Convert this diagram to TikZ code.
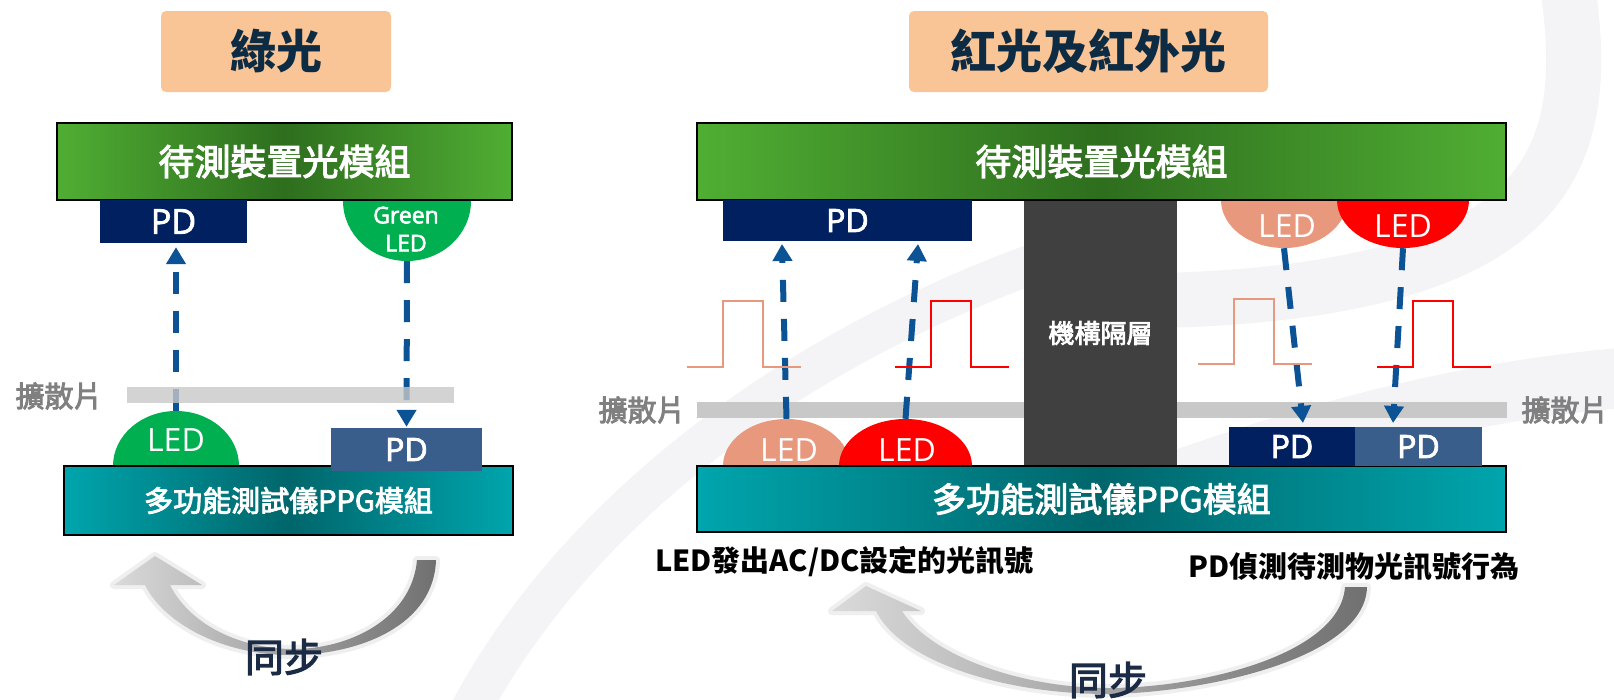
\documentclass[tikz,border=0pt]{standalone}
\usepackage{fontspec}
\setmainfont{Noto Sans CJK TC}
\newfontfamily\cjkmid[FakeBold=3]{Noto Sans CJK TC}
\newfontfamily\latf{Open Sans}
\newfontfamily\latsb[FakeBold=2.5]{Open Sans}
\usetikzlibrary{arrows.meta,shapes.geometric}
\newcommand\myfs[1]{\fontsize{#1pt}{#1pt}\selectfont}
\definecolor{peach}{HTML}{F9C597}
\definecolor{titletext}{HTML}{0D2B42}
\definecolor{gEdge}{HTML}{50AE33}
\definecolor{gMid}{HTML}{2E6E1E}
\definecolor{tEdge}{HTML}{00A5AD}
\definecolor{tMid}{HTML}{00666B}
\definecolor{pdDark}{HTML}{002060}
\definecolor{pdLight}{HTML}{3A5E8B}
\definecolor{ledGreen}{HTML}{00B050}
\definecolor{ledSalmon}{HTML}{E8987D}
\definecolor{ledRed}{HTML}{FF0000}
\definecolor{arrowBlue}{HTML}{0B5394}
\definecolor{diff}{HTML}{C8C8C8}
\definecolor{diffText}{HTML}{808080}
\definecolor{barrierC}{HTML}{404040}
\definecolor{swirl}{HTML}{F4F4F7}
\definecolor{syncText}{HTML}{1B2A45}
\definecolor{syncGlow}{HTML}{EFEFEF}
\definecolor{syncLight}{HTML}{DADADA}
\definecolor{syncDark}{HTML}{707070}
\begin{document}
\begin{tikzpicture}[x=1pt,y=-1pt,
 titlebox/.style={fill=peach, rounded corners=5pt, inner sep=0pt, text=titletext, font=\myfs{46}\bfseries},
 ledshape/.style={ellipse, inner sep=0pt, draw=none},
 greenbar/.style={draw=black, line width=1.5pt, left color=gEdge, right color=gEdge, middle color=gMid, text=white, font=\cjkmid\myfs{36}, inner sep=0pt},
 tealbar/.style={draw=black, line width=1.5pt, left color=tEdge, right color=tEdge, middle color=tMid, text=white, inner sep=0pt},
 pdbox/.style={inner sep=0pt, text=white, font=\latsb\myfs{32}},
 ledtext/.style={text=white, font=\latf\myfs{32}, inner sep=0pt},
 lightarrow/.style={draw=arrowBlue, line width=6pt, dash pattern=on 22pt off 17pt, -{Triangle[width=19pt,length=17pt]}},
 diffuser/.style={fill=diff, inner sep=0pt},
 difflabel/.style={text=diffText, font=\cjkmid\myfs{29}, inner sep=0pt},
 barrierbox/.style={fill=barrierC, inner sep=0pt, text=white, font=\cjkmid\myfs{26}},
 wave/.style={line width=2pt},
 synctext/.style={text=syncText, font=\cjkmid\myfs{39}, inner sep=0pt},
 syncarrow/.style={preaction={draw=syncGlow, line width=8pt, line join=round}, left color=syncLight, right color=syncDark},
 note/.style={font=\myfs{29}\bfseries, text=black, inner sep=0pt},
 swirlband/.style={draw=swirl, line cap=round}
]
\useasboundingbox (0,0) rectangle (1614,699);
\fill[white] (0,0) rectangle (1614,699);
\begin{scope}
\clip (0,0) rectangle (1614,699);
\draw[swirlband, line width=40pt] (455,740) .. controls (560,520) and (800,330) .. (1120,235);
\draw[swirlband, line width=55pt] (1565,-30) .. controls (1595,150) and (1565,285) .. (1180,300);
\draw[swirlband, line width=60pt] (1180,480) .. controls (1350,420) and (1500,385) .. (1660,375);
\end{scope}

% titles
\node[titlebox, minimum width=230pt, minimum height=81pt] (titleL) at (276,51.5) {綠光};
\node[titlebox, minimum width=359pt, minimum height=81pt] (titleR) at (1088.5,51.5) {紅光及紅外光};

% ===== left panel =====
\node[ledshape, fill=ledGreen, minimum width=128pt, minimum height=120pt] (gLED) at (407,201) {};
\node[ledshape, fill=ledGreen, minimum width=126pt, minimum height=110pt] (bLED) at (176,466) {};
\node[greenbar, minimum width=455pt, minimum height=77pt] (gbarL) at (284.5,161.5) {待測裝置光模組};
\node[tealbar, minimum width=449pt, minimum height=69pt, font=\cjkmid\myfs{29}] (tbarL) at (288.5,500.5) {多功能測試儀PPG模組};
\node[pdbox, fill=pdDark, minimum width=147pt, minimum height=43pt, font=\latsb\myfs{34}] (pdTL) at (173.5,221.5) {PD};
\node[pdbox, fill=pdLight, minimum width=151pt, minimum height=43pt] (pdBL) at (406.5,449.5) {PD};
\node[ledtext, align=center, font=\latsb\fontsize{23pt}{28pt}\selectfont] (tGLED) at (406,229) {Green\\LED};
\node[ledtext] (tBLED) at (176,440) {LED};
\draw[lightarrow, shorten >=4pt] (bLED.north) -- (bLED.north |- pdTL.south);
\draw[lightarrow, shorten >=1pt] (gLED.south) -- (pdBL.north);
\node[diffuser, minimum width=327pt, minimum height=16pt, fill opacity=0.8] (diffL) at (290.5,395) {};
\node[difflabel] (dlabL) at (59,396) {擴散片};

% ===== right panel =====
\node[diffuser, minimum width=810pt, minimum height=16pt] (diffR) at (1102,410) {};
\node[barrierbox, minimum width=153pt, minimum height=266pt] (barrier) at (1100.5,333) {機構隔層};
\node[ledshape, fill=ledSalmon, minimum width=127pt, minimum height=94pt] (sLED1) at (786.5,466) {};
\node[ledshape, fill=ledRed, minimum width=133pt, minimum height=94pt] (rLED1) at (905.5,466) {};
\node[ledshape, fill=ledSalmon, minimum width=126pt, minimum height=96pt] (sLED2) at (1284,200) {};
\node[ledshape, fill=ledRed, minimum width=132pt, minimum height=96pt] (rLED2) at (1403,200) {};
\node[greenbar, minimum width=809pt, minimum height=77pt] (gbarR) at (1101.5,161.5) {待測裝置光模組};
\node[tealbar, minimum width=809pt, minimum height=66pt, font=\cjkmid\myfs{34}] (tbarR) at (1101.5,499) {多功能測試儀PPG模組};
\node[pdbox, fill=pdDark, minimum width=249pt, minimum height=41pt] (pdTR) at (847.5,220.5) {PD};
\node[pdbox, fill=pdDark, minimum width=126pt, minimum height=39pt] (pdBR1) at (1292,446.5) {PD};
\node[pdbox, fill=pdLight, minimum width=127pt, minimum height=39pt] (pdBR2) at (1418.5,446.5) {PD};
\node[ledtext] (tsLED1) at (789,450) {LED};
\node[ledtext] (trLED1) at (907,450) {LED};
\node[ledtext] (tsLED2) at (1287,226) {LED};
\node[ledtext] (trLED2) at (1403,226) {LED};
\coordinate (a1e) at (782,244);
\coordinate (a2e) at (918,244);
\coordinate (a3e) at (1303,423);
\coordinate (a4e) at (1393,423);
\draw[lightarrow] (sLED1.north) -- (a1e);
\draw[lightarrow] (rLED1.north) -- (a2e);
\draw[lightarrow] (sLED2.south) -- (a3e);
\draw[lightarrow] (rLED2.south) -- (a4e);
\draw[wave, draw=ledSalmon] (687,367) -- (723,367) -- (723,301) -- (763,301) -- (763,367) -- (801,367);
\draw[wave, draw=ledRed] (895,367) -- (931,367) -- (931,301) -- (971,301) -- (971,367) -- (1009,367);
\draw[wave, draw=ledSalmon] (1198,364) -- (1234,364) -- (1234,299) -- (1274,299) -- (1274,364) -- (1312,364);
\draw[wave, draw=ledRed] (1377,367) -- (1413,367) -- (1413,301) -- (1453,301) -- (1453,367) -- (1491,367);
\node[difflabel] (dlabR1) at (642,410) {擴散片};
\node[difflabel] (dlabR2) at (1565,410) {擴散片};
\node[note, anchor=west] (ledNote) at (655,562) {LED發出AC/DC設定的光訊號};
\node[note] (pdNote) at (1354,567) {PD偵測待測物光訊號行為};

% ===== sync arrows =====
\path[syncarrow] (436,560) .. controls (434,625) and (360,655) .. (290,655)
  .. controls (225,655) and (165,625) .. (145,585) -- (114,585) -- (155,556) -- (202,585) -- (170,585)
  .. controls (190,625) and (240,648) .. (290,649) .. controls (350,650) and (412,618) .. (417,560) -- cycle;
\node[synctext] (syncL) at (284,657) {同步};
\path[syncarrow] (1367,587) .. controls (1365,660) and (1200,693) .. (1108,694)
  .. controls (1000,694) and (900,660) .. (876,611) -- (832,611) -- (866,586) -- (921,611) -- (902,611)
  .. controls (930,655) and (1020,688) .. (1108,688) .. controls (1200,688) and (1340,655) .. (1345,587) -- cycle;
\node[synctext] (syncR) at (1108,680) {同步};
\end{tikzpicture}
\end{document}
